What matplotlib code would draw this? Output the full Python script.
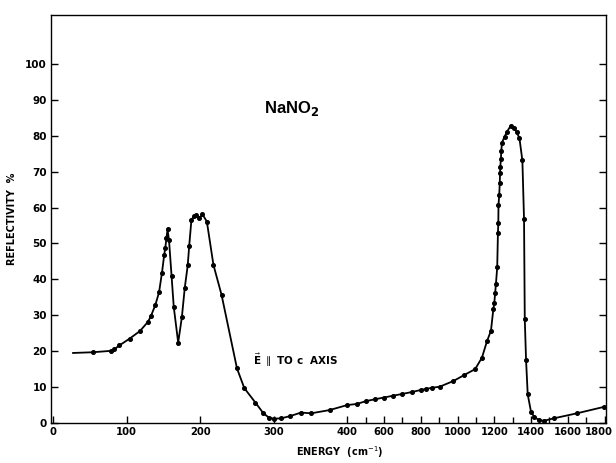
import numpy as np
import matplotlib
matplotlib.use("Agg")
import matplotlib.pyplot as plt
import matplotlib.transforms as mtransforms

energy = [27, 54, 79, 83, 90, 104, 118, 129, 133, 139, 144, 148, 151, 152.5, 154,
          155.5, 157.5, 161, 164, 170, 175, 179, 183, 185, 188, 191, 194, 198.5,
          203, 209, 218, 229, 250, 260, 275, 286, 294, 301, 310, 322, 337, 351,
          376, 400, 452, 503, 550, 600, 650, 700, 750, 800, 830, 860, 903, 978,
          1038, 1096, 1133, 1160, 1182, 1195, 1200, 1205, 1209, 1216, 1220, 1222,
          1223, 1227, 1230, 1231.5, 1233, 1236, 1238, 1242, 1256, 1269, 1290,
          1308, 1321, 1337, 1353, 1362, 1366, 1373, 1382, 1400, 1416, 1443, 1470,
          1524, 1650, 1798]
reflectivity = [19.5, 19.7, 20.1, 20.5, 21.6, 23.5, 25.6, 28.2, 29.8, 32.9, 36.4,
                41.9, 46.8, 48.8, 51.4, 53.9, 51.0, 41.0, 32.3, 22.4, 29.4, 37.7,
                43.9, 49.3, 56.5, 57.5, 57.8, 57.0, 58.1, 56.1, 44.0, 35.7, 15.2,
                9.7, 5.7, 2.7, 1.4, 1.2, 1.3, 1.9, 2.9, 2.7, 3.6, 5.0, 5.3, 6.1,
                6.6, 7.1, 7.6, 8.1, 8.6, 9.2, 9.5, 9.8, 10.1, 11.7, 13.4, 15.0,
                18.2, 22.7, 25.7, 31.7, 33.3, 36.3, 38.7, 43.3, 53.0, 55.6, 60.7,
                63.5, 66.9, 69.7, 71.4, 73.4, 75.6, 78.1, 79.7, 81.1, 82.8, 82.1,
                81.1, 79.3, 73.1, 56.7, 29.0, 17.5, 8.0, 3.1, 1.8, 0.8, 0.6, 1.3,
                2.7, 4.5]

x_major = [0, 100, 200, 300, 400, 600, 800, 1000, 1200, 1400, 1600, 1800]
x_minor = [500, 700, 900, 1100, 1300, 1500, 1700]
y_ticks = list(range(0, 101, 10))


def fwd(x):
    x = np.asarray(x, dtype=float)
    return np.where(x <= 400, x, 400 + (x - 400) / 4.0)


def inv(y):
    y = np.asarray(y, dtype=float)
    return np.where(y <= 400, y, 400 + (y - 400) * 4.0)


fig = plt.figure(figsize=(6.16, 4.63), dpi=100)
ax = fig.add_axes([51 / 616, 1 - 423 / 463, 555 / 616, 408 / 463])
ax.set_xscale('function', functions=(fwd, inv))

ax.plot(energy, reflectivity, color='black', lw=1.3, zorder=3)
ax.plot(energy[1:], reflectivity[1:], 'o', color='black', ms=2.6, zorder=4)

ax.set_xlim(-3, 1808)
ax.set_ylim(0, 113.6)

ax.set_xticks(x_major)
ax.set_xticklabels([str(v) for v in x_major])
ax.set_xticks(x_minor, minor=True)
ax.set_xticklabels([], minor=True)
ax.set_yticks(y_ticks)
ax.set_yticklabels([str(v) for v in y_ticks])

ax.tick_params(axis='x', which='major', direction='in', length=5, width=1,
               labelsize=7.2, pad=3)
ax.tick_params(axis='x', which='minor', direction='in', length=4, width=1)
ax.tick_params(axis='y', which='major', direction='in', length=5, width=1,
               labelsize=7.5, pad=3, right=True)
for lab in ax.get_xticklabels() + ax.get_yticklabels():
    lab.set_fontweight('bold')

# nudge the last x label left so it stays inside the figure, as in the reference
last = ax.get_xticklabels()[-1]
last.set_transform(last.get_transform() +
                   mtransforms.ScaledTranslation(-6 / 100, 0, fig.dpi_scale_trans))

for sp in ax.spines.values():
    sp.set_linewidth(1.0)

ax.set_xlabel('ENERGY  (cm$^{-1}$)', fontsize=7, fontweight='bold', labelpad=5)
ax.xaxis.label.set_x(0.52)
ax.set_ylabel('REFLECTIVITY  %', fontsize=7, fontweight='bold', labelpad=6)

ax.text(325, 87.5, r'NaNO$_{\mathbf{2}}$', fontsize=12, fontweight='bold',
        ha='center', va='center', family='Liberation Sans')
ax.text(330, 17.5, r'$\vec{\mathbf{E}}$ $\parallel$ TO c  AXIS', fontsize=7.5,
        fontweight='bold', ha='center', va='center')

fig.savefig('out.png', dpi=100)
